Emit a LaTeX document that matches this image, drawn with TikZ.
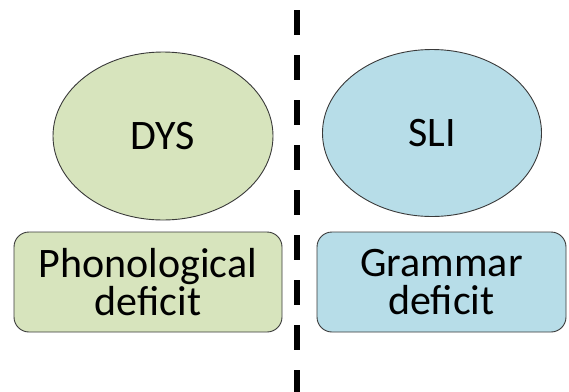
\documentclass[tikz,border=0pt]{standalone}
\usepackage{fontspec}
\setmainfont{Carlito}
\usetikzlibrary{shapes.geometric}
\definecolor{dysfill}{HTML}{D7E4BD}
\definecolor{slifill}{HTML}{B7DDE8}
\definecolor{edge}{HTML}{3A3A3A}
\begin{document}
\begin{tikzpicture}[x=1pt,y=-1pt,
  blob/.style={ellipse,draw=edge,line width=0.9pt,inner sep=0pt},
  deficitbox/.style={rounded corners=15pt,draw=edge,line width=0.9pt,inner sep=0pt,
    align=center,font=\fontsize{42}{38}\selectfont},
  label/.style={font=\fontsize{42}{38}\selectfont}]
\useasboundingbox (0,0) rectangle (569,391);
% the two disorders
\node[blob,fill=dysfill,minimum width=220pt,minimum height=168pt] (dys) at (163,136) {};
\node[label] at (dys.center) {DYS};
\node[blob,fill=slifill,minimum width=219pt,minimum height=167pt] (sli) at (432,133) {};
\node[label] at (sli.center) {SLI};
% their deficits
\node[deficitbox,fill=dysfill,minimum width=268pt,minimum height=100pt] (phon) at (148,282)
  {Phonological\\deficit};
\node[deficitbox,fill=slifill,minimum width=249pt,minimum height=100pt] (gram) at (441.5,282)
  {Grammar\\deficit};
% dividing line
\coordinate (top) at (297,10);
\coordinate (bottom) at (297,392);
\draw[line width=6pt,dash pattern=on 25pt off 20pt] (top) -- (bottom);
\end{tikzpicture}
\end{document}
